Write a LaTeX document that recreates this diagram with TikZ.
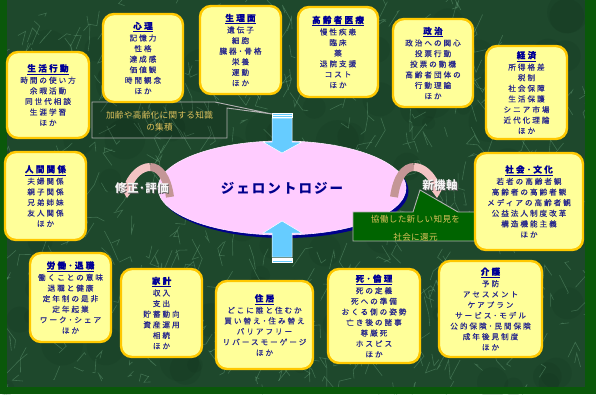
\documentclass[tikz,border=0pt]{standalone}
\usepackage{fontspec}
\usetikzlibrary{shapes.geometric,shadows}
\newfontfamily\jp[LetterSpace=26,FakeBold=0.4]{Noto Sans CJK JP}
\newfontfamily\jpt[LetterSpace=15]{Noto Sans CJK JP}
\newfontfamily\jpl[LetterSpace=4]{Noto Sans CJK JP}
\definecolor{bgc}{RGB}{30,72,44}
\definecolor{texc}{RGB}{125,185,145}
\definecolor{darkc}{RGB}{12,40,22}
\definecolor{framec}{RGB}{10,88,10}
\definecolor{boxfill}{RGB}{255,255,153}
\definecolor{boxborder}{RGB}{255,200,0}
\definecolor{titlec}{RGB}{0,0,150}
\definecolor{itemc}{RGB}{40,40,140}
\definecolor{pinkc}{RGB}{255,204,255}
\definecolor{navyc}{RGB}{0,0,140}
\definecolor{arrowc}{RGB}{102,204,255}
\definecolor{goldc}{RGB}{222,194,92}
\definecolor{calloutg}{RGB}{0,100,0}
\definecolor{roseL}{RGB}{244,196,196}
\definecolor{roseD}{RGB}{196,150,150}
\newcommand\ttl[1]{{\fontsize{8.6}{10.6}\selectfont\bfseries\color{titlec}\underline{#1}}\\[1pt]}
\tikzset{
  topic/.style={draw=boxborder, line width=2.4pt, fill=boxfill, rounded corners=11pt,
    align=center, inner sep=1pt, text=itemc, font=\jp\fontsize{7.6}{10.6}\selectfont},
  callline/.style={draw=gray!60!white, line width=0.9pt},
  bluearrow/.style={fill=arrowc, draw=white, line width=0.5pt},
  curvetxt/.style={font=\jpl\bfseries\fontsize{11.5}{13}\selectfont, inner sep=0pt},
}
\begin{document}
\begin{tikzpicture}[x=1pt,y=-1pt]
\useasboundingbox (0,0) rectangle (596,394);
\fill[bgc] (0,0) rectangle (596,394);
% texture
\pgfmathsetseed{12345}
\foreach \i in {1,...,90}{
  \pgfmathsetmacro\xa{rnd*590}
  \pgfmathsetmacro\ya{rnd*390}
  \pgfmathsetmacro\rr{6+rnd*16}
  \fill[darkc, opacity=0.12] (\xa,\ya) circle (\rr);
}
\foreach \i in {1,...,520}{
  \pgfmathsetmacro\xa{rnd*590}
  \pgfmathsetmacro\ya{rnd*390}
  \pgfmathsetmacro\dx{(rnd-0.5)*26}
  \pgfmathsetmacro\dy{(rnd-0.5)*40}
  \pgfmathsetmacro\ex{(rnd-0.5)*18}
  \pgfmathsetmacro\ey{(rnd-0.5)*30}
  \draw[texc, line width=0.6pt, opacity=0.35] (\xa,\ya) -- ++(\dx,\dy) -- ++(\ex,\ey);
}
% frame
\fill[framec] (0,0) rectangle (7,394);
\fill[framec] (585,0) rectangle (596,394);
\fill[framec] (0,387) rectangle (596,394);

% central ellipse
\node[ellipse, fill=pinkc, draw=white!60!pinkc, line width=0.6pt, minimum width=248, minimum height=94,
  inner sep=0pt, drop shadow={shadow xshift=2.5pt, shadow yshift=-3pt, fill=navyc, opacity=1},
  font=\jpt\bfseries\fontsize{13.5}{16}\selectfont, text=navyc] (gero) at (282,188) {ジェロントロジー};

% blue arrows
\draw[bluearrow] (272,118) -- (292,118) -- (292,142) -- (302,142) -- (282,153) -- (263,142) -- (272,142) -- cycle;
\draw[bluearrow] (272,113) rectangle (292,114.8);
\draw[bluearrow] (272,115.6) rectangle (292,117.2);
\draw[bluearrow] (272,257) -- (292,257) -- (292,233) -- (302,233) -- (282,221) -- (263,233) -- (272,233) -- cycle;
\draw[bluearrow] (272,258) rectangle (292,259.6);
\draw[bluearrow] (272,260.4) rectangle (292,262);

% curved arrows
\draw[roseD, line width=8pt] (394,197) .. controls (397,176) and (405,167) .. (414,167);
\draw[roseL, line width=8pt] (414,167) .. controls (423,167) and (431,175) .. (435,184);
\fill[roseL] (426,183) -- (446,183) -- (437,198) -- cycle;
\draw[roseD, line width=8pt] (170,197) .. controls (167,176) and (159,167) .. (150,167);
\draw[roseL, line width=8pt] (150,167) .. controls (141,167) and (133,175) .. (129,184);
\fill[roseL] (138,183) -- (118,183) -- (127,198) -- cycle;
\node[curvetxt, text=gray!70!black] at (142.8,188.8) {修正･評価};
\node[curvetxt, text=white!92!gray] (shusei) at (142,188) {修正･評価};
\node[curvetxt, text=gray!70!black] at (440.8,185.8) {新機軸};
\node[curvetxt, text=white!92!gray] (shinki) at (440,185) {新機軸};

% callout 1
\filldraw[callline, fill=black, fill opacity=0.15] (92,102) -- (215,102) -- (272,114) -- (227,108) -- (227,138) -- (92,138) -- cycle;
\node[align=center, text=goldc, font=\jpl\fontsize{8.6}{12}\selectfont] (c1) at (159.5,121) {加齢や高齢化に関する知識\\の集積};

% callout 2
\coordinate (tip2) at (420,190);
\filldraw[callline, fill=calloutg] (353,212) -- (413,212) -- (tip2) -- (458,212) -- (478,212) -- (478,241) -- (353,241) -- cycle;
\node[align=center, text=goldc, font=\jpl\fontsize{8.6}{18}\selectfont] (c2) at (415.5,228) {協働した新しい知見を\\社会に還元};

% topic boxes
\node[topic, minimum width=82, minimum height=86] (seikatsu) at (48,95)
  {\ttl{生活行動}時間の使い方\\余暇活動\\同世代相談\\生涯学習\\ほか};
\node[topic, minimum width=80, minimum height=88] (shinri) at (143,58)
  {\ttl{心理}記憶力\\性格\\達成感\\価値観\\時間観念\\ほか};
\node[topic, minimum width=81, minimum height=88] (seiri) at (240.5,50)
  {\ttl{生理面}遺伝子\\細胞\\臓器･骨格\\栄養\\運動\\ほか};
\node[topic, minimum width=80, minimum height=90] (iryo) at (338,52)
  {\ttl{高齢者医療}慢性疾患\\臨床\\薬\\退院支援\\コスト\\ほか};
\node[topic, minimum width=80, minimum height=88] (seiji) at (433,63)
  {\ttl{政治}政治への関心\\投票行動\\投票の動機\\高齢者団体の\\行動理論\\ほか};
\node[topic, minimum width=81, minimum height=93] (keizai) at (526.5,92.5)
  {\ttl{経済}所得格差\\税制\\社会保障\\生活保護\\シニア市場\\近代化理論\\ほか};
\node[topic, minimum width=81, minimum height=88] (ningen) at (45.5,196)
  {\ttl{人間関係}夫婦関係\\親子関係\\兄弟姉妹\\友人関係\\ほか};
\node[topic, minimum width=108, minimum height=97] (shakai) at (529,201.5)
  {\ttl{社会･文化}若者の高齢者観\\高齢者の高齢者観\\メディアの高齢者観\\公益法人制度改革\\構造機能主義\\ほか};
\node[topic, minimum width=81, minimum height=89] (rodo) at (70.5,297.5)
  {\ttl{労働･退職}働くことの意味\\退職と健康\\定年制の是非\\定年起業\\ワーク･シェア\\ほか};
\node[topic, minimum width=81, minimum height=88] (kakei) at (161.5,313)
  {\ttl{家計}収入\\支出\\貯蓄動向\\資産運用\\相続\\ほか};
\node[topic, minimum width=97, minimum height=88] (jukyo) at (264.5,325)
  {\ttl{住居}どこに誰と住むか\\買い替え･住み替え\\バリアフリー\\リバースモーゲージ\\ほか};
\node[topic, minimum width=92, minimum height=94] (shi) at (374,316)
  {\ttl{死･倫理}死の定義\\死への準備\\おくる側の姿勢\\亡き後の諸事\\尊厳死\\ホスピス\\ほか};
\node[topic, minimum width=103, minimum height=96] (kaigo) at (490.5,309)
  {\ttl{介護}予防\\アセスメント\\ケアプラン\\サービス･モデル\\公的保険･民間保険\\成年後見制度\\ほか};
\end{tikzpicture}
\end{document}
